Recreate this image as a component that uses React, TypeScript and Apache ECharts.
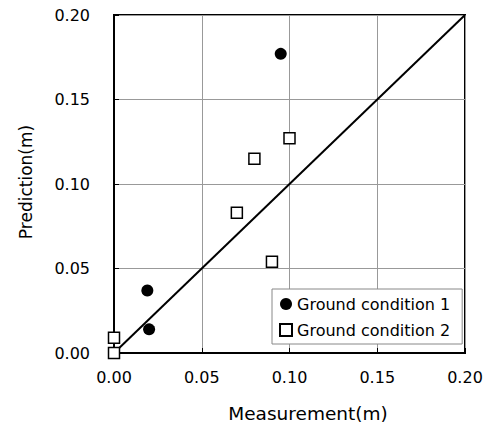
import React, { useEffect, useRef } from "react";
import * as echarts from "echarts";

const xTicks = [0, 0.05, 0.1, 0.15, 0.2];
const series1Name = "Ground condition 1";
const series2Name = "Ground condition 2";
const ground1: [number, number][] = [
  [0.095, 0.177],
  [0.019, 0.037],
  [0.02, 0.014],
];
const ground2: [number, number][] = [
  [0.1, 0.127],
  [0.08, 0.115],
  [0.07, 0.083],
  [0.09, 0.054],
  [0.0, 0.009],
  [0.0, 0.0],
];
const diagonal: [number, number][] = [
  [0, 0],
  [0.2, 0.2],
];
const xTitle = "Measurement(m)";
const yTitle = "Prediction(m)";

const FONT = "DejaVu Sans";

export default function App() {
  const ref = useRef<HTMLDivElement>(null);
  useEffect(() => {
    document.body.style.margin = "0";
    const chart = echarts.init(ref.current!, null, { renderer: "svg" });
    const axisCommon = {
      type: "value" as const,
      min: xTicks[0],
      max: xTicks[xTicks.length - 1],
      interval: 0.05,
      axisLine: { show: true, lineStyle: { color: "#000", width: 2 } },
      axisTick: { show: true, inside: true, length: 5, lineStyle: { color: "#000", width: 1 } },
      splitLine: { show: true, lineStyle: { color: "#999", width: 1 } },
      axisLabel: {
        formatter: (v: number) => v.toFixed(2),
        fontSize: 16,
        color: "#000",
        fontFamily: FONT,
      },
    };
    chart.setOption({
      animation: false,
      backgroundColor: "#fff",
      grid: {
        left: 114,
        top: 15,
        right: 23,
        bottom: 77,
        show: true,
        borderColor: "#000",
        borderWidth: 2,
      },
      xAxis: { ...axisCommon, axisLabel: { ...axisCommon.axisLabel, margin: 16 } },
      yAxis: { ...axisCommon, axisLabel: { ...axisCommon.axisLabel, margin: 24 } },
      legend: {
        orient: "vertical",
        left: 272,
        top: 289,
        backgroundColor: "#fff",
        borderColor: "#888",
        borderWidth: 1,
        borderRadius: 0,
        padding: [7, 12, 6, 7],
        itemGap: 10,
        itemWidth: 12,
        itemHeight: 12,
        textStyle: { fontSize: 16, color: "#000", fontFamily: FONT },
        data: [series1Name, series2Name],
      },
      graphic: [
        {
          type: "text",
          x: 308,
          y: 413,
          style: {
            text: xTitle,
            fontSize: 18.5,
            fontFamily: FONT,
            fill: "#000",
            align: "center",
            verticalAlign: "middle",
          },
        },
        {
          type: "text",
          x: 26,
          y: 182,
          rotation: Math.PI / 2,
          style: {
            text: yTitle,
            fontSize: 17,
            fontFamily: FONT,
            fill: "#000",
            align: "center",
            verticalAlign: "middle",
          },
        },
      ],
      series: [
        {
          type: "line",
          data: diagonal,
          symbol: "none",
          lineStyle: { color: "#000", width: 2 },
          silent: true,
          z: 2,
        },
        {
          name: series2Name,
          type: "scatter",
          data: ground2,
          symbol: "rect",
          symbolSize: 11,
          itemStyle: { color: "#fff", borderColor: "#000", borderWidth: 1.5, opacity: 1 },
          z: 3,
        },
        {
          name: series1Name,
          type: "scatter",
          data: ground1,
          symbol: "circle",
          symbolSize: 12,
          itemStyle: { color: "#000", opacity: 1 },
          z: 4,
        },
      ],
    });
    return () => chart.dispose();
  }, []);
  return <div ref={ref} style={{ width: 488, height: 430 }} />;
}
